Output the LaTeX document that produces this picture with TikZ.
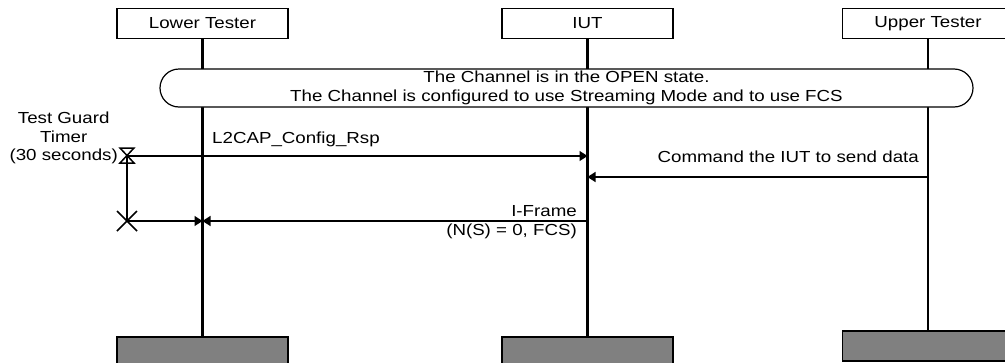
\documentclass[tikz,border=0pt]{standalone}
\usepackage{fontspec}
\setmainfont{Liberation Sans}[FakeStretch=1.17]
\usetikzlibrary{arrows.meta,shapes.misc}
\begin{document}
\begin{tikzpicture}[x=1pt,y=-1pt,
  every node/.style={font=\fontsize{16}{18.5}\selectfont, inner sep=0pt},
  actor/.style={draw, line width=1.2pt, fill=white, minimum width=171, minimum height=30},
  endbox/.style={draw, line width=1.2pt, fill=black!50, minimum width=171, minimum height=30},
  life/.style={line width=2.2pt},
  msg/.style={line width=1.5pt, -{Triangle[length=8pt,width=10pt]}},
  plain/.style={line width=1.5pt},
  lbl/.style={align=center}]
\useasboundingbox (0,0) rectangle (1005,362);
% actors
\node[actor] (lt) at (202.5,23.5) {Lower Tester};
\node[actor] (iut) at (587.5,23.5) {IUT};
\node[actor] (ut) at (928,23.5) {Upper Tester};
% end boxes
\node[endbox] (ltb) at (202.5,352) {};
\node[endbox] (iutb) at (587.5,352) {};
\node[endbox] (utb) at (928,346) {};
% lifelines
\draw[life] (lt.south) -- (ltb.north);
\draw[life] (iut.south) -- (iutb.north);
\draw[life] (ut.south) -- (utb.north);
% state
\node[draw, line width=1.2pt, fill=white, rounded rectangle, minimum width=813, minimum height=38, lbl] (state) at (566.5,88)
  {The Channel is in the OPEN state.\\The Channel is configured to use Streaming Mode and to use FCS};
% timer
\node[lbl, anchor=east] (tlabel) at (118,138) {Test Guard\\Timer\\(30 seconds)};
\coordinate (tstart) at (127,156);
\coordinate (tend) at (127,221);
\draw[plain] ([shift={(-7,-8)}]tstart) -- ([shift={(7,-8)}]tstart) -- ([shift={(-7,7)}]tstart) -- ([shift={(7,7)}]tstart) -- cycle;
\draw[plain] (tstart) -- (tend);
\draw[plain] ([shift={(-10,-10)}]tend) -- ([shift={(10,10)}]tend);
\draw[plain] ([shift={(-10,10)}]tend) -- ([shift={(10,-10)}]tend);
% messages
\draw[msg] (tstart) -- (tstart -| iut);
\node[anchor=west] (m1) at (212,139) {L2CAP\_Config\_Rsp};
\coordinate (c2) at (ut |- 0,177);
\draw[msg] (c2) -- (c2 -| iut);
\node[anchor=east] (m2) at (919,157) {Command the IUT to send data};
\coordinate (c3) at (iut |- tend);
\draw[msg] (c3) -- (c3 -| lt);
\draw[msg] (tend) -- (tend -| lt);
\node[anchor=east] (m3) at (577,211) {I-Frame};
\node[anchor=east] (m3b) at (577,231) {(N(S) = 0, FCS)};
\end{tikzpicture}
\end{document}
